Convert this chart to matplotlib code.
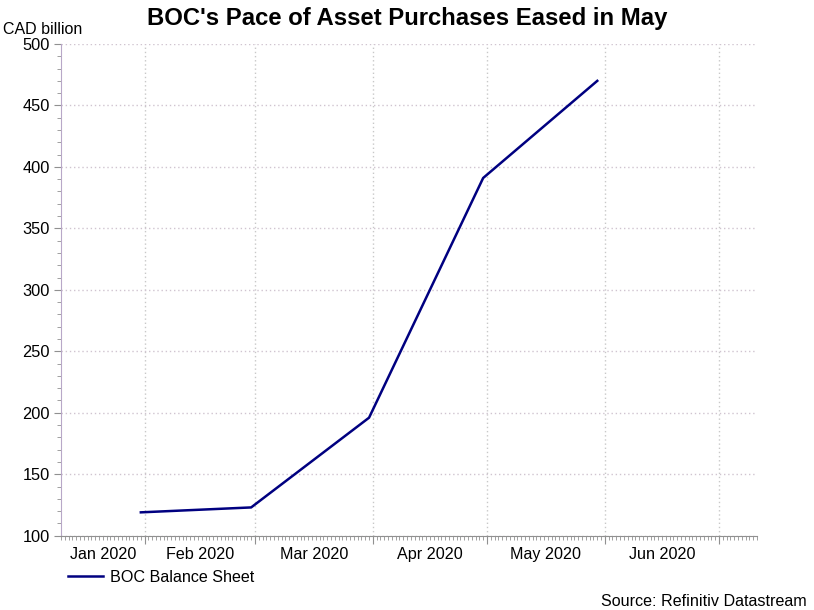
import datetime as dt
import matplotlib
matplotlib.use("Agg")
import matplotlib.pyplot as plt
import matplotlib.dates as mdates
import matplotlib.transforms as mtrans
from matplotlib.ticker import MultipleLocator, NullFormatter

plt.rcParams['font.family'] = ['Liberation Sans', 'DejaVu Sans']

# balance sheet values near month end, CAD billion
dates = [dt.date(2020, 1, 31), dt.date(2020, 2, 29), dt.date(2020, 3, 31),
         dt.date(2020, 4, 30), dt.date(2020, 5, 30)]
values = [119, 123, 196, 391, 470]
months = ['Jan 2020', 'Feb 2020', 'Mar 2020', 'Apr 2020', 'May 2020', 'Jun 2020']
month_starts = [dt.date(2020, m, 1) for m in range(1, 8)]

x_lo = dt.date(2020, 1, 10)
x_hi = dt.date(2020, 7, 11)

fig = plt.figure(figsize=(8.14, 6.10), dpi=100)
ax = fig.add_axes([0.0749, 0.1218, 0.8551, 0.8061])

line, = ax.plot(dates, values, color='#000080', lw=1.8, label='BOC Balance Sheet')

ax.set_xlim(x_lo, x_hi)
ax.set_ylim(100, 500)

ax.yaxis.set_major_locator(MultipleLocator(50))
ax.yaxis.set_minor_locator(MultipleLocator(10))
ax.xaxis.set_major_locator(mdates.MonthLocator())
ax.xaxis.set_minor_locator(mdates.DayLocator())
ax.xaxis.set_major_formatter(NullFormatter())

ax.tick_params(axis='y', which='major', length=5, color='#909090', labelsize=11.8, pad=3)
ax.tick_params(axis='y', which='minor', length=3, color='#909090')
ax.tick_params(axis='x', which='major', length=6, color='#909090')
ax.tick_params(axis='x', which='minor', length=3, color='#909090')

for s in ['top', 'right']:
    ax.spines[s].set_visible(False)
ax.spines['left'].set_color('#b8a8c8')
ax.spines['bottom'].set_color('#909090')

ax.grid(True, which='major', axis='x', color='#c8c8c8', linestyle=(0, (1, 2)), lw=1)
ax.grid(True, which='major', axis='y', color='#d0c4d0', linestyle=(0, (1, 2)), lw=1)

# month labels centred in the visible part of each month
lo = mdates.date2num(x_lo)
hi = mdates.date2num(x_hi)
trans = mtrans.blended_transform_factory(ax.transData, ax.transAxes)
for i, lab in enumerate(months):
    a = max(mdates.date2num(month_starts[i]), lo)
    b = min(mdates.date2num(month_starts[i + 1]), hi)
    ax.text((a + b) / 2, -0.038, lab, transform=trans, ha='center', va='center', fontsize=11.6)

fig.text(0.5, 0.970, "BOC's Pace of Asset Purchases Eased in May", ha='center', va='center',
         fontsize=17.2, fontweight='bold')
fig.text(0.004, 0.952, 'CAD billion', ha='left', va='center', fontsize=11.5)
fig.text(0.991, 0.014, 'Source: Refinitiv Datastream', ha='right', va='center', fontsize=11.6)

fig.legend(handles=[line], loc='center left', bbox_to_anchor=(0.083, 0.054), frameon=False,
           fontsize=11.6, handlelength=2.2, handletextpad=0.45, borderaxespad=0,
           borderpad=0)

fig.savefig('out.png', dpi=100)
